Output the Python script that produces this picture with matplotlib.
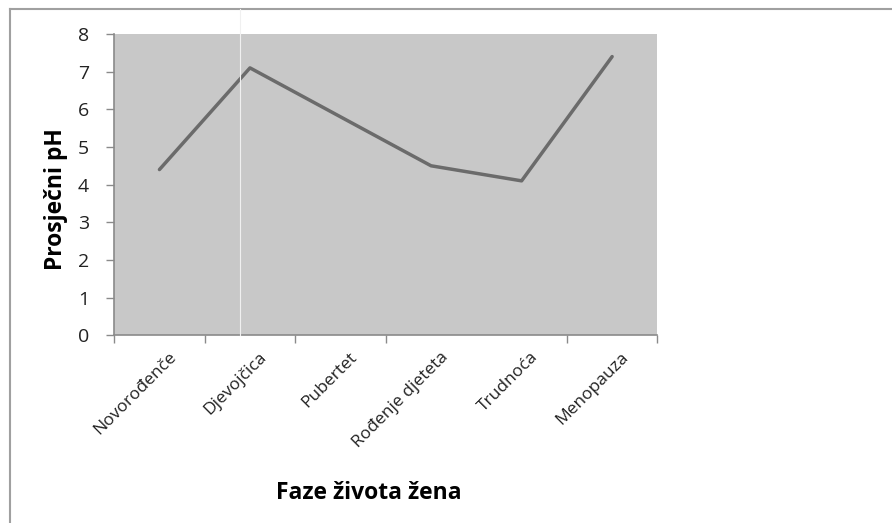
import matplotlib
matplotlib.use("Agg")
import matplotlib.pyplot as plt
import matplotlib.transforms as mtransforms
from matplotlib.lines import Line2D
import numpy as np

# Data
phases = ["Novorođenče", "Djevojčica", "Pubertet", "Rođenje djeteta", "Trudnoća", "Menopauza"]
avg_ph = [4.4, 7.1, 5.8, 4.5, 4.1, 7.4]
y_ticks = [0, 1, 2, 3, 4, 5, 6, 7, 8]
# category boundaries that carry a tick mark in the original (one is missing)
x_bounds = [0, 1, 2, 3, 5, 6]

plt.rcParams["font.family"] = ["Open Sans", "DejaVu Sans"]

fig = plt.figure(figsize=(8.92, 5.23), dpi=100)
ax = fig.add_axes([0.128, 0.359, 0.609, 0.576])
ax.set_facecolor("#c8c8c8")

# categories centred between boundary ticks
x = np.arange(len(phases)) + 0.5
ax.plot(x, avg_ph, color="#6b6b6b", linewidth=2.5, solid_capstyle="round")

ax.set_xlim(0, len(phases))
ax.set_ylim(0, 8)
ax.set_yticks(y_ticks)
ax.tick_params(axis="y", labelsize=14, length=6, width=1, color="#8a8a8a",
               labelcolor="#222222", pad=12)

ax.set_xticks(x_bounds)
ax.set_xticklabels([])
ax.tick_params(axis="x", which="major", length=6, width=1, color="#8a8a8a")
ax.set_xticks(x, minor=True)
ax.set_xticklabels(phases, minor=True, rotation=45, ha="right", va="top",
                   fontsize=12.5, color="#222222")
ax.tick_params(axis="x", which="minor", length=0, pad=10)
offset = mtransforms.ScaledTranslation(0.2, 0, fig.dpi_scale_trans)
for lbl in ax.get_xticklabels(minor=True):
    lbl.set_transform(lbl.get_transform() + offset)

for side in ["top", "right"]:
    ax.spines[side].set_visible(False)
for side in ["left", "bottom"]:
    ax.spines[side].set_color("#8a8a8a")
    ax.spines[side].set_linewidth(1.2)

fig.text(0.063, 0.62, "Prosječni pH", rotation=90, ha="center", va="center",
         fontsize=16.5, fontweight="bold", color="black")
fig.text(0.413, 0.057, "Faze života žena", ha="center", va="center",
         fontsize=16.5, fontweight="bold", color="black")

# outer frame (top and left edges) and the thin white line in the original
fig.add_artist(Line2D([0.0112, 1.0], [0.983, 0.983], color="#a0a0a0", linewidth=1.5))
fig.add_artist(Line2D([0.0112, 0.0112], [0.0, 0.983], color="#a0a0a0", linewidth=1.5))
fig.add_artist(Line2D([0.269, 0.269], [0.359, 0.983], color="#f0f0f0", linewidth=0.8))

fig.savefig("out.png", dpi=100)
